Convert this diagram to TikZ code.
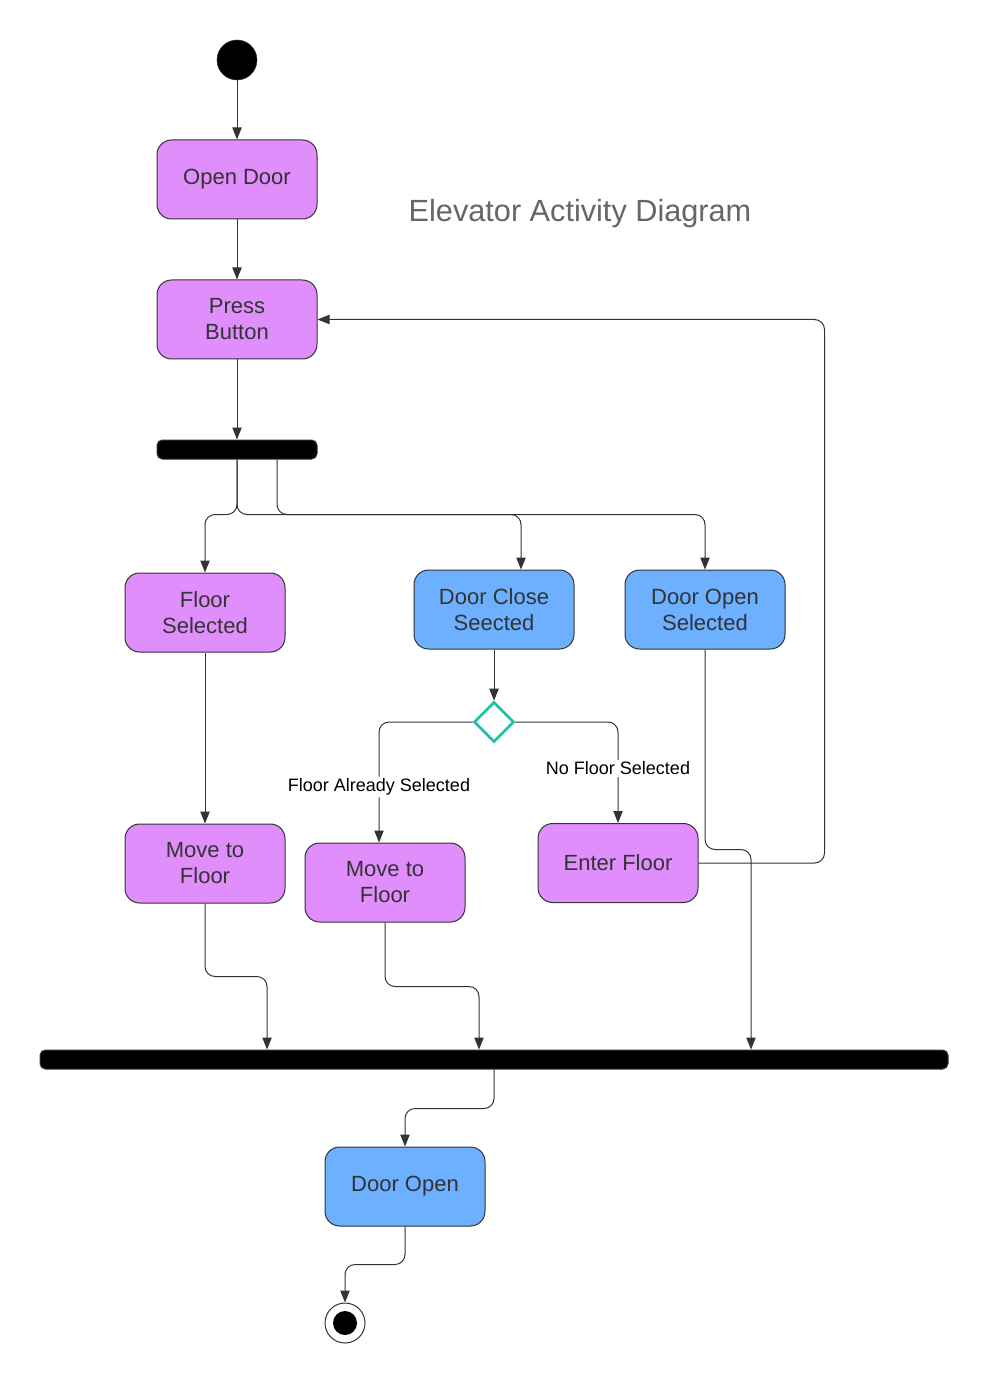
\documentclass[tikz,border=0pt]{standalone}
\usepackage{fontspec}
\setmainfont{Liberation Sans}
\usetikzlibrary{arrows.meta,shapes.geometric,calc}
\definecolor{purp}{HTML}{E08EFC}
\definecolor{blu}{HTML}{6CB0FF}
\definecolor{txt}{HTML}{333333}
\definecolor{ln}{HTML}{333333}
\definecolor{tealc}{HTML}{1BC2A5}
\definecolor{titlec}{HTML}{666666}
\begin{document}
\begin{tikzpicture}[x=0.75pt,y=-0.75pt,
 act/.style={draw=ln, line width=0.75pt, rounded corners=11pt, minimum width=120pt, minimum height=59.25pt, align=center, text=txt, font=\fontsize{16.5}{19.5}\selectfont, inner sep=0pt},
 pact/.style={act, fill=purp},
 bact/.style={act, fill=blu},
 bar/.style={fill=black, draw=ln, line width=0.75pt, rounded corners=4pt, inner sep=0pt, minimum height=14.25pt},
 conn/.style={draw=ln, line width=0.75pt, rounded corners=7.5pt, -{Triangle[length=9pt,width=7pt]}},
 lbl/.style={fill=white, text=black, font=\fontsize{13.5}{16}\selectfont, inner sep=1.5pt}]
\fill[white] (0,0) rectangle (988,1383);
\useasboundingbox (0,0) rectangle (988,1383);

\node[titlec, font=\fontsize{23}{27}\selectfont] (title) at (580,214) {Elevator Activity Diagram};

\node[circle, fill=black, draw=ln, minimum size=30pt, inner sep=0pt] (start) at (237,60) {};
\node[pact] (opendoor) at (237,179.5) {Open Door};
\node[pact] (press) at (237,319.5) {Press\\Button};
\node[bar, minimum width=120pt] (fork) at (237,449.5) {};
\node[pact] (floorsel) at (205,612.5) {Floor\\Selected};
\node[bact] (doorclose) at (494,609.5) {Door Close\\Seected};
\node[bact] (dooropensel) at (705,609.5) {Door Open\\Selected};
\node[diamond, draw=tealc, line width=1.9pt, fill=white, minimum width=30pt, minimum height=30pt, inner sep=0pt] (dia) at (494,722) {};
\node[pact] (move1) at (205,863.5) {Move to\\Floor};
\node[pact] (move2) at (385,882.5) {Move to\\Floor};
\node[pact] (enter) at (618,863) {Enter Floor};
\node[bar, minimum width=681pt] (join) at (494,1059.5) {};
\node[bact] (dooropen) at (405,1186.5) {Door Open};
\node[circle, draw=ln, line width=0.75pt, fill=white, minimum size=30pt, inner sep=0pt] (end) at (345,1323) {};
\node[circle, fill=black, minimum size=18pt, inner sep=0pt] (endin) at (end.center) {};

\draw[conn] (start) -- (opendoor);
\draw[conn] (opendoor) -- (press);
\draw[conn] (press) -- (fork);
\draw[conn] (fork.south) -- ++(0,55) -| (floorsel.north);
\draw[conn] (fork.south) -- ++(0,55) -| ($(doorclose.north)+(27,0)$);
\draw[conn] ($(fork.south)+(40,0)$) -- ++(0,55) -| (dooropensel.north);
\draw[conn] (doorclose.south) -- (dia.north);
\draw[conn] (dia.west) -| ($(move2.north)+(-6,0)$) node[lbl, pos=0.77] (l1) {Floor Already Selected};
\draw[conn] (dia.east) -| (enter.north) node[lbl, pos=0.73] (l2) {No Floor Selected};
\draw[conn] (floorsel) -- (move1);
\draw[conn] (enter.east) -- ++(126,0) |- (press.east);
\draw[conn] (dooropensel.south) -- ++(0,200) -| ($(join.north)+(257,0)$);
\draw[conn] (move1.south) -- ++(0,73) -| ($(join.north)+(-227,0)$);
\draw[conn] (move2.south) -- ++(0,64) -| ($(join.north)+(-15,0)$);
\draw[conn] (join.south) -- ++(0,39) -| (dooropen.north);
\draw[conn] (dooropen.south) -- ++(0,38) -| (end.north);
\end{tikzpicture}
\end{document}
